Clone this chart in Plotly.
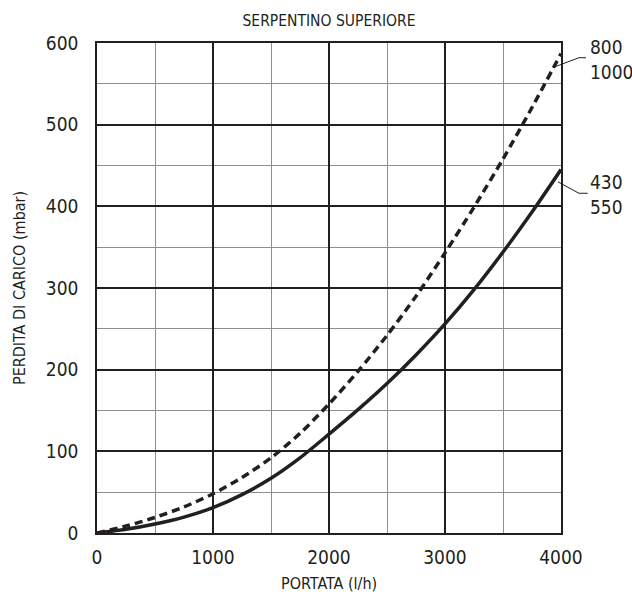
import plotly.graph_objects as go

# Flow rate (l/h) and pressure drop (mbar) for the upper coil
portata = [0, 250, 500, 750, 1000, 1250, 1500, 1750, 2000,
           2250, 2500, 2750, 3000, 3250, 3500, 3750, 4000]
perdita_430_550 = [0, 4.5, 11, 19.5, 31, 47, 67, 92, 121,
                   151, 183, 218, 256, 298, 344, 393, 445]
perdita_800_1000 = [0, 8.5, 19, 32, 48, 68, 92, 122, 158,
                    198, 242, 290, 343, 399, 458, 521, 587]

x_ticks = [0, 1000, 2000, 3000, 4000]
y_ticks = [0, 100, 200, 300, 400, 500, 600]

X_RANGE = (0, 4000)
Y_RANGE = (0, 600)

FONT = "DejaVu Sans Condensed, Liberation Sans Narrow, sans-serif"
INK = "#231f20"

fig = go.Figure()

fig.add_trace(go.Scatter(
    x=portata, y=perdita_800_1000, mode="lines",
    line=dict(color=INK, width=3.5, dash="8px,5px", shape="spline", smoothing=0.8),
    showlegend=False, hoverinfo="skip",
))
fig.add_trace(go.Scatter(
    x=portata, y=perdita_430_550, mode="lines",
    line=dict(color=INK, width=3.5, shape="spline", smoothing=0.8),
    showlegend=False, hoverinfo="skip",
))


def dom(x, y):
    """Data coordinates -> axis-domain fractions (drawn outside the plot)."""
    return ((x - X_RANGE[0]) / (X_RANGE[1] - X_RANGE[0]),
            (y - Y_RANGE[0]) / (Y_RANGE[1] - Y_RANGE[0]))


# Leader lines from each curve to its label
leaders = [
    [(3931, 570), (4155, 582), (4215, 582)],
    [(3974, 430), (4155, 416), (4230, 416)],
]
for pts in leaders:
    d = [dom(px, py) for px, py in pts]
    path = "M " + " L ".join(f"{a:.5f},{b:.5f}" for a, b in d)
    fig.add_shape(type="path", path=path, xref="x domain", yref="y domain",
                  line=dict(color=INK, width=1))

labels = [("800<br>1000", 580), ("430<br>550", 414)]
for txt, yv in labels:
    lx, ly = dom(4237, yv)
    fig.add_annotation(x=lx, y=ly, xref="x domain", yref="y domain", text=txt,
                       showarrow=False, xanchor="left", yanchor="middle",
                       align="left", font=dict(family=FONT, size=19, color=INK))

# Axis titles
fig.add_annotation(x=0.5, y=-0.104, xref="paper", yref="paper",
                   text="PORTATA (l/h)", showarrow=False,
                   xanchor="center", yanchor="middle",
                   font=dict(family=FONT, size=16, color=INK))
fig.add_annotation(x=-0.168, y=0.5, xref="paper", yref="paper",
                   text="PERDITA DI CARICO (mbar)", showarrow=False, textangle=-90,
                   xanchor="center", yanchor="middle",
                   font=dict(family=FONT, size=16, color=INK))

axis_common = dict(
    showline=True, linecolor=INK, linewidth=1.5, mirror=True,
    showgrid=True, gridcolor=INK, gridwidth=1.5,
    zeroline=False, ticks="",
    tickfont=dict(family=FONT, size=19, color=INK),
)

fig.update_xaxes(range=list(X_RANGE), tickvals=x_ticks, ticklabelstandoff=6,
                 minor=dict(dtick=500, tick0=0, showgrid=True,
                            gridcolor="#8e8e8e", gridwidth=1.2),
                 **axis_common)
fig.update_yaxes(range=list(Y_RANGE), tickvals=y_ticks, ticklabelstandoff=13,
                 minor=dict(dtick=50, tick0=0, showgrid=True,
                            gridcolor="#8e8e8e", gridwidth=1.2),
                 **axis_common)

fig.update_layout(
    width=632, height=596,
    margin=dict(l=97, r=71, t=43, b=63),
    paper_bgcolor="white", plot_bgcolor="white",
    title=dict(text="SERPENTINO SUPERIORE", x=0.5, xref="paper",
               y=1 - 21 / 596, yref="container", yanchor="middle",
               font=dict(family=FONT, size=15.5, color=INK)),
)

fig.write_html("out.html")
